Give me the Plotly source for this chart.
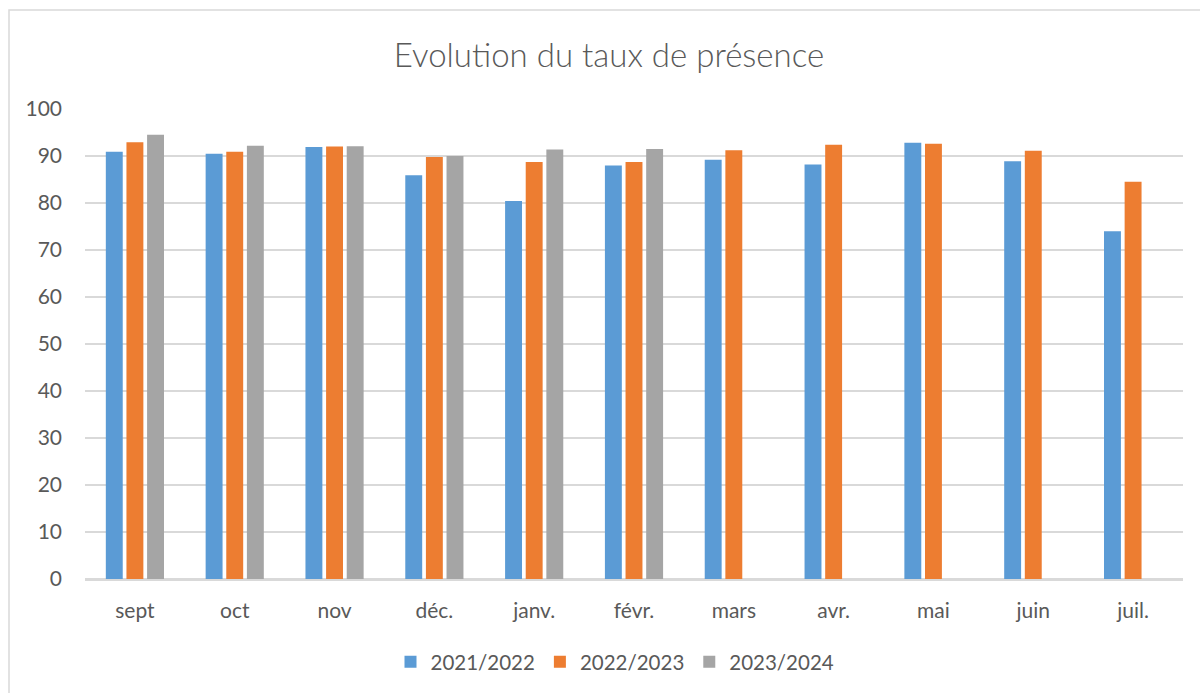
import plotly.graph_objects as go

months = ["sept", "oct", "nov", "déc.", "janv.", "févr.", "mars", "avr.", "mai", "juin", "juil."]
s2021 = [90.9, 90.5, 91.9, 85.9, 80.4, 88.0, 89.2, 88.2, 92.8, 88.9, 74.0]
s2022 = [92.9, 90.9, 92.0, 89.8, 88.7, 88.7, 91.2, 92.4, 92.6, 91.1, 84.5]
s2023 = [94.5, 92.2, 92.1, 90.0, 91.4, 91.5, None, None, None, None, None]
series_names = ["2021/2022", "2022/2023", "2023/2024"]
colors = ["#5B9BD5", "#ED7D31", "#A5A5A5"]

FONT = "Lato"
TXT = "#595959"

fig = go.Figure()
for name, vals, col in zip(series_names, [s2021, s2022, s2023], colors):
    fig.add_trace(go.Bar(x=months, y=vals, name=name, marker=dict(color=col, line=dict(width=0))))

L, R, T, B = 85, 17, 109, 114
W, H = 1200, 693
pw, ph = W - L - R, H - T - B

def px_x(p):
    return (p - L) / pw

def px_y(p):
    return (H - B - p) / ph

fig.update_layout(
    width=W, height=H,
    margin=dict(l=L, r=R, t=T, b=B),
    paper_bgcolor="white", plot_bgcolor="white",
    barmode="group", bargap=0.38, bargroupgap=0.18,
    font=dict(family=FONT, color=TXT, size=21),
    title=dict(text="Evolution du taux de présence", x=609 / W, xanchor="center",
               xref="container", yref="container", y=1 - 55 / H, yanchor="middle",
               font=dict(family=FONT, size=33, color=TXT, weight=300)),
    legend=dict(orientation="h", x=615 / W, xref="container", xanchor="center",
                yref="container", y=1 - 662 / H, yanchor="middle",
                font=dict(size=20.5, color=TXT), itemwidth=30, tracegroupgap=0),
    xaxis=dict(showgrid=False, showline=True, linecolor="#D9D9D9", linewidth=1.5,
               ticks="", ticklabelstandoff=12, tickfont=dict(size=21, color=TXT)),
    yaxis=dict(range=[0, 100], dtick=10, showgrid=True, gridcolor="#D9D9D9", gridwidth=1.5,
               zeroline=True, zerolinecolor="#D9D9D9", zerolinewidth=1.5,
               showline=False, ticks="", ticklabelstandoff=22, tickfont=dict(size=21, color=TXT)),
    shapes=[dict(type="rect", xref="paper", yref="paper",
                 x0=px_x(9), x1=px_x(1215), y0=px_y(705), y1=px_y(10),
                 line=dict(color="#D9D9D9", width=1.5), fillcolor="rgba(0,0,0,0)", layer="below")],
)

fig.write_html("out.html", config={"displayModeBar": False},
               post_script="document.body.style.margin='0';document.body.style.overflow='hidden';")
